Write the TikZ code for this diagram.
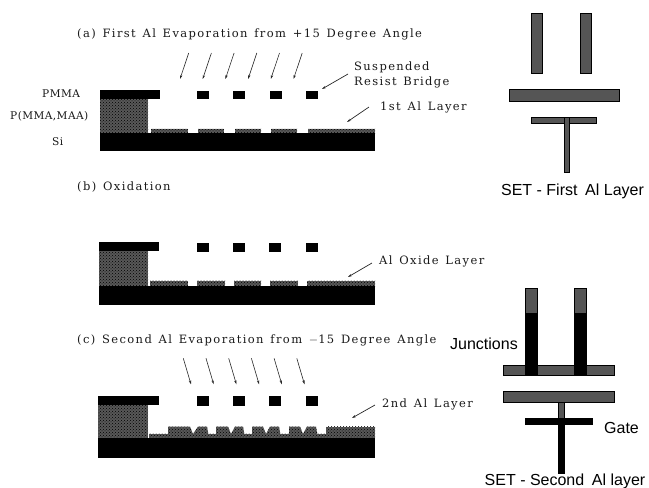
\documentclass[tikz,border=0pt]{standalone}
\usepackage{fontspec}
\setmainfont{Liberation Sans}
\newfontfamily\scanfont[LetterSpace=12,WordSpace=1.35]{DejaVu Serif}
\newfontfamily\scancaps[LetterSpace=4]{DejaVu Serif}
\usetikzlibrary{patterns,arrows.meta}
\definecolor{metal}{HTML}{555555}
\definecolor{stip}{HTML}{585858}
\tikzset{
  x=1pt,y=-1pt,
  scan/.style={font=\scanfont\fontsize{11.5}{13}\selectfont,inner sep=0pt,anchor=west,text=black!90},
  scansmall/.style={font=\scancaps\fontsize{10.6}{13}\selectfont,inner sep=0pt,anchor=west,text=black!90},
  sans/.style={font=\fontsize{16}{18}\selectfont,inner sep=0pt,text=black},
  solidpart/.style={fill=black,draw=none},
  stipple/.style={fill=stip,draw=none,postaction={pattern=crosshatch dots,pattern color=black}},
  ray/.style={draw=black!85,line width=.6pt,-{Stealth[length=4pt,width=2.4pt]}},
  pointer/.style={draw=black!85,line width=.7pt,-{Stealth[length=4pt,width=2.4pt]}},
  metalbar/.style={fill=metal,draw=black,line width=1pt},
  blackbar/.style={fill=black,draw=black,line width=.6pt},
}
\begin{document}
\begin{tikzpicture}
\useasboundingbox (0,0) rectangle (649,488);
% ---- panel (a)
\node[scan] (ta) at (77,34) {(a) First Al Evaporation from +15 Degree Angle};
\fill[stipple] (100,99) rectangle (148,131);
\fill[stipple] (100,128) rectangle (148,133);
\foreach \a/\b in {151/188,198/224,235/261,271/297,308/375}
  \fill[stipple] (\a,128.5) rectangle (\b,133);
\fill[solidpart] (100,90) rectangle (160,99);
\foreach \a in {197,233,270,306}
  \fill[solidpart] (\a,91) rectangle (\a+11.5,99);
\fill[solidpart] (100,133) rectangle (375,151);
\foreach \a in {0,1,2,3,4,5}{
  \coordinate (as\a) at (188.7+22.7*\a,53);
  \coordinate (ae\a) at (180+22.7*\a,79);
  \draw[ray] (as\a) -- (ae\a);
}
\node[scansmall] (lpmma) at (42,94) {PMMA};
\node[scansmall] (lpm) at (10,116) {P(MMA,MAA)};
\node[scansmall] (lsi) at (52,142) {Si};
\node[scan] (lsus) at (354,67) {Suspended};
\node[scan] (lres) at (354,82) {Resist Bridge};
\node[scan] (lfirst) at (380,107) {1st Al Layer};
\coordinate (psus) at (322,89);
\coordinate (pfirst) at (347,122);
\draw[pointer] (348,74) -- (psus);
\draw[pointer] (369,107) -- (pfirst);
% ---- panel (b)
\node[scan] (tb) at (77,187) {(b) Oxidation};
\fill[stipple] (99,251) rectangle (148,286);
\foreach \a/\b in {150/188,197/225,234/261,270/298,307/375}
  \fill[stipple] (\a,280.5) rectangle (\b,286);
\fill[solidpart] (99,242) rectangle (159,251);
\foreach \a in {197,233,269,306}
  \fill[solidpart] (\a,243) rectangle (\a+11.5,252);
\fill[solidpart] (99,286) rectangle (375,305);
\node[scan] (lox) at (379,261) {Al Oxide Layer};
\draw[pointer] (372,263) -- (348,277);
% ---- panel (c)
\node[scan] (tc) at (77,340) {(c) Second Al Evaporation from $-$15 Degree Angle};
\fill[stipple] (98,405) rectangle (148,438);
\fill[stipple] (149,433.5) rectangle (327,438);
\foreach \a/\b/\c/\d in {168/190/198/207,216/228/235/243,252/263/270/279,289/300/307/316}
  \fill[stipple] (\a,438) -- (\a,426.5) -- (\b,426.5) -- (\b+3,434) -- (\c,426.5) -- (\d,426.5) -- (\d+2,438) -- cycle;
\fill[stipple] (326,438) -- (326,426.5) -- (375,426.5) -- (375,438) -- cycle;
\fill[solidpart] (98,396) rectangle (159,405);
\foreach \a in {197,233,269,306}
  \fill[solidpart] (\a,396) rectangle (\a+11.5,405.5);
\fill[solidpart] (98,438) rectangle (375,458);
\foreach \a in {0,1,2,3,4,5}{
  \coordinate (cs\a) at (183.3+22.7*\a,358.3);
  \coordinate (ce\a) at (191+22.7*\a,384.3);
  \draw[ray] (cs\a) -- (ce\a);
}
\node[scan] (lsec) at (382,404) {2nd Al Layer};
\draw[pointer] (375,405) -- (352,418);
% ---- SET first layer
\draw[metalbar] (531,13) rectangle (542,73);
\draw[metalbar] (580,13) rectangle (591,73);
\draw[metalbar] (509,89.5) rectangle (619,101);
\draw[metalbar] (531,117) rectangle (596.5,123);
\draw[metalbar] (564,117) rectangle (569,172);
\node[sans] (setone) at (572.5,191) {SET - First\hspace{.2em} Al Layer};
% ---- SET second layer
\draw[metalbar] (503,365) rectangle (614,375);
\draw[metalbar] (525,288) rectangle (537,313);
\draw[metalbar] (574,288) rectangle (586,313);
\draw[blackbar] (525,313) rectangle (537,375);
\draw[blackbar] (574,313) rectangle (586,375);
\draw[metalbar] (503,391) rectangle (614,402);
\draw[metalbar] (558.5,402) rectangle (564,420);
\draw[blackbar] (525,418.5) rectangle (592,424.5);
\draw[blackbar] (558.5,418.5) rectangle (564,473);
\node[sans,anchor=west] (ljun) at (450,344) {Junctions};
\node[sans,anchor=west] (lgate) at (604,428) {Gate};
\node[sans] (settwo) at (565,481) {SET - Second\hspace{.2em} Al layer};
\end{tikzpicture}
\end{document}
